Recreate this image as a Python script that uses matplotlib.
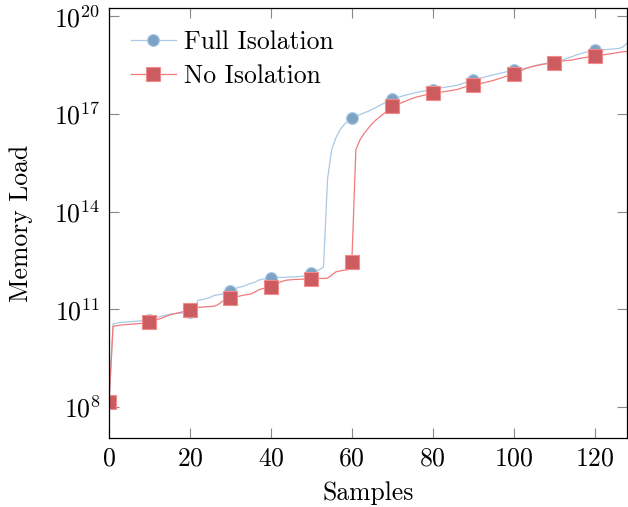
import numpy as np
import matplotlib
matplotlib.use('Agg')
import matplotlib.pyplot as plt

plt.rcParams['font.family'] = 'serif'
plt.rcParams['font.serif'] = ['cmr10']
plt.rcParams['mathtext.fontset'] = 'cm'
plt.rcParams['axes.formatter.use_mathtext'] = True

samples = np.arange(129)

# log10 of memory load
full_log10 = [8.15,
              10.55, 10.58, 10.60, 10.61, 10.62, 10.63, 10.64, 10.65, 10.66, 10.67,
              10.72, 10.76, 10.79, 10.82, 10.85, 10.87, 10.88, 10.89, 10.90, 10.92,
              11.00, 11.28, 11.30, 11.33, 11.37, 11.43, 11.45, 11.47, 11.52, 11.57,
              11.62, 11.68, 11.70, 11.75, 11.80, 11.83, 11.90, 11.93, 11.94, 11.96,
              11.97, 11.98, 11.98, 11.99, 12.00, 12.00, 12.01, 12.02, 12.05, 12.12,
              12.18, 12.22, 12.30, 15.00, 15.90, 16.25, 16.50, 16.66, 16.78, 16.87,
              16.93, 16.98, 17.03, 17.08, 17.14, 17.20, 17.27, 17.33, 17.40, 17.45,
              17.49, 17.53, 17.57, 17.60, 17.63, 17.66, 17.69, 17.71, 17.73, 17.75,
              17.77, 17.80, 17.82, 17.84, 17.86, 17.88, 17.92, 17.96, 18.00, 18.03,
              18.07, 18.11, 18.14, 18.17, 18.20, 18.23, 18.26, 18.29, 18.32, 18.34,
              18.36, 18.38, 18.40, 18.43, 18.47, 18.51, 18.53, 18.55, 18.56, 18.58,
              18.62, 18.66, 18.70, 18.74, 18.79, 18.83, 18.87, 18.90, 18.93, 18.95,
              18.96, 18.97, 18.98, 18.99, 19.00, 19.01, 19.06, 19.17]

none_log10 = [8.15,
              10.48, 10.50, 10.52, 10.53, 10.54, 10.55, 10.56, 10.57, 10.58, 10.60,
              10.64, 10.69, 10.73, 10.78, 10.83, 10.86, 10.89, 10.92, 10.95, 10.97,
              11.02, 11.06, 11.07, 11.08, 11.09, 11.10, 11.15, 11.25, 11.30, 11.34,
              11.37, 11.40, 11.43, 11.45, 11.47, 11.53, 11.60, 11.64, 11.66, 11.68,
              11.75, 11.82, 11.87, 11.90, 11.91, 11.92, 11.92, 11.93, 11.93, 11.93,
              11.94, 11.95, 11.95, 11.96, 12.05, 12.15, 12.18, 12.20, 12.22, 12.45,
              15.90, 16.20, 16.40, 16.55, 16.70, 16.82, 16.92, 17.02, 17.12, 17.23,
              17.28, 17.33, 17.38, 17.43, 17.48, 17.52, 17.55, 17.58, 17.61, 17.63,
              17.65, 17.67, 17.69, 17.71, 17.73, 17.75, 17.79, 17.83, 17.86, 17.88,
              17.91, 17.94, 17.97, 18.00, 18.03, 18.07, 18.11, 18.15, 18.18, 18.22,
              18.28, 18.34, 18.40, 18.44, 18.47, 18.49, 18.52, 18.54, 18.56, 18.58,
              18.60, 18.62, 18.64, 18.65, 18.67, 18.70, 18.72, 18.74, 18.76, 18.77,
              18.79, 18.81, 18.83, 18.85, 18.87, 18.89, 18.91, 18.92]

full_load = np.power(10.0, full_log10)
none_load = np.power(10.0, none_log10)

fig = plt.figure(figsize=(6.28, 5.07), dpi=100)
ax = fig.add_axes([0.1736, 0.136, 0.8248, 0.848])

ax.plot(samples, full_load, '-o', color='#a9c9e6', lw=0.9, markevery=10,
        markersize=8.5, markerfacecolor='#7da2c4', markeredgecolor='#a9c9e6',
        markeredgewidth=0.8, label='Full Isolation')
ax.plot(samples, none_load, '-s', color='#f27a7a', lw=0.9, markevery=10,
        markersize=9.5, markerfacecolor='#cc5c5f', markeredgecolor='#f28c8c',
        markeredgewidth=0.8, label='No Isolation')

ax.set_yscale('log')
ax.set_xlim(0, 128)
ax.set_ylim(10**7.05, 10**20.25)
ax.set_yticks([1e8, 1e11, 1e14, 1e17, 1e20])
ax.yaxis.set_minor_locator(matplotlib.ticker.NullLocator())
ax.set_xticks([0, 20, 40, 60, 80, 100, 120])

ax.tick_params(direction='in', top=True, right=True, length=7, width=0.8,
               color='#888888', labelsize=18.5, pad=6)
for sp in ax.spines.values():
    sp.set_linewidth(0.9)

ax.set_xlabel('Samples', fontsize=18.5, labelpad=8)
ax.set_ylabel('Memory Load', fontsize=18.5, labelpad=15)

ax.legend(loc='upper left', frameon=False, fontsize=18.5, handlelength=1.75,
          handletextpad=0.3, labelspacing=0.4, borderaxespad=0.45)

fig.savefig('out.png', dpi=100)
